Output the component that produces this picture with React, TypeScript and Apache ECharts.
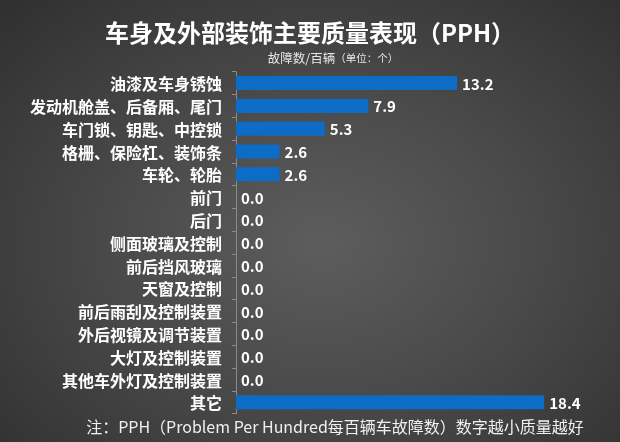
import React, { useEffect, useRef } from "react";
import * as echarts from "echarts";

const categories = [
  "油漆及车身锈蚀",
  "发动机舱盖、后备厢、尾门",
  "车门锁、钥匙、中控锁",
  "格栅、保险杠、装饰条",
  "车轮、轮胎",
  "前门",
  "后门",
  "侧面玻璃及控制",
  "前后挡风玻璃",
  "天窗及控制",
  "前后雨刮及控制装置",
  "外后视镜及调节装置",
  "大灯及控制装置",
  "其他车外灯及控制装置",
  "其它",
];
const values = [13.2, 7.9, 5.3, 2.6, 2.6, 0, 0, 0, 0, 0, 0, 0, 0, 0, 18.4];

const titleText = "车身及外部装饰主要质量表现（PPH）";
const unitMain = "故障数/百辆";
const unitSub = "（单位：个）";
const noteText = "注：PPH（Problem Per Hundred每百辆车故障数）数字越小质量越好";

const FONT = '"Noto Sans CJK SC", "Noto Sans", sans-serif';

export default function App() {
  const ref = useRef<HTMLDivElement>(null);
  useEffect(() => {
    if (!ref.current) return;
    const chart = echarts.init(ref.current, null, { renderer: "svg" });
    chart.setOption({
      animation: false,
      backgroundColor: "transparent",
      textStyle: { fontFamily: FONT },
      title: {
        text: titleText,
        left: "center",
        top: 14,
        textStyle: { color: "#ffffff", fontSize: 24, fontWeight: "bold", fontFamily: FONT },
      },
      graphic: [
        {
          type: "text",
          x: 333,
          y: 57,
          style: {
            text: "{a|" + unitMain + "}{b|" + unitSub + "}",
            align: "center",
            verticalAlign: "middle",
            rich: {
              a: { fontSize: 12.5, fill: "#e6e6e6", fontFamily: FONT },
              b: { fontSize: 10.5, fill: "#e6e6e6", fontFamily: FONT },
            },
          },
        },
        {
          type: "text",
          x: 335,
          y: 426,
          style: {
            text: noteText,
            align: "center",
            verticalAlign: "middle",
            fontSize: 16,
            fill: "#f0f0f0",
            fontFamily: FONT,
          },
        },
      ],
      grid: { left: 236, right: 49, top: 71.7, bottom: 28.3, containLabel: false },
      xAxis: {
        type: "value",
        min: 0,
        max: 20,
        show: false,
        splitLine: { show: false },
      },
      yAxis: {
        type: "category",
        data: categories,
        inverse: true,
        axisLine: { show: true, lineStyle: { color: "#8a8a8a", width: 1 } },
        axisTick: { show: true, length: 4, lineStyle: { color: "#8a8a8a" } },
        axisLabel: {
          color: "#ffffff",
          fontSize: 16,
          fontWeight: "bold",
          margin: 14,
          fontFamily: FONT,
        },
      },
      series: [
        {
          type: "bar",
          data: values,
          barWidth: 14,
          itemStyle: { color: "#0c6cc6" },
          label: {
            show: true,
            position: "right",
            distance: 5,
            color: "#ffffff",
            fontSize: 15,
            fontWeight: "bold",
            fontFamily: FONT,
            formatter: (p: any) => Number(p.value).toFixed(1),
          },
        },
      ],
    });
    return () => chart.dispose();
  }, []);
  return (
    <div
      ref={ref}
      style={{
        position: "fixed",
        left: 0,
        top: 0,
        width: 620,
        height: 442,
        background: "radial-gradient(ellipse at 52% 55%, #5d5d5d 0%, #4a4a4a 45%, #2f2f2f 100%)",
      }}
    />
  );
}
